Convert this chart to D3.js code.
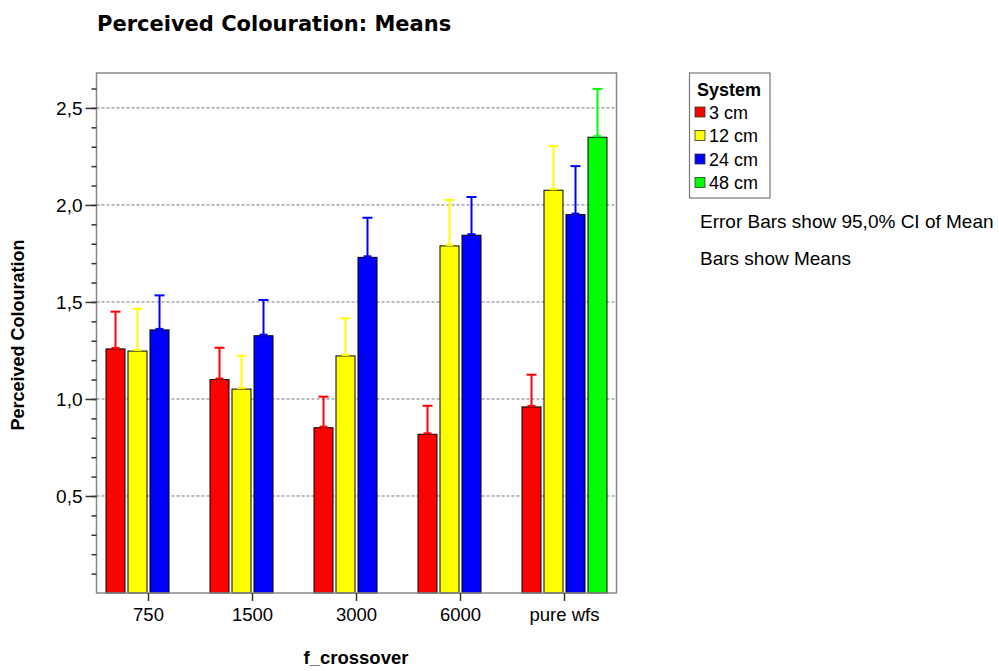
<!DOCTYPE html>
<html>
<head>
<meta charset="utf-8">
<script src="https://cdn.jsdelivr.net/npm/d3@7"></script>
<style>
  body { margin: 0; background: #fff; }
  text { font-family: "Liberation Sans", Arial, sans-serif; fill: #000; }
</style>
</head>
<body>
<div class="chart"></div>
<script>
const categories = ["750", "1500", "3000", "6000", "pure wfs"]
const systems = ["3 cm", "12 cm", "24 cm", "48 cm"]
const colors = ["#ff0000", "#ffff00", "#0000ff", "#00ff00"]

// means and upper 95% CI, one array per system (null = no bar)
const means3 = [1.258, 1.10, 0.852, 0.818, 0.959]
const means12 = [1.247, 1.051, 1.222, 1.789, 2.076]
const means24 = [1.356, 1.326, 1.730, 1.844, 1.950]
const means48 = [null, null, null, null, 2.349]
const upper3 = [1.45, 1.264, 1.012, 0.965, 1.125]
const upper12 = [1.465, 1.223, 1.416, 2.026, 2.303]
const upper24 = [1.534, 1.51, 1.934, 2.041, 2.2]
const upper48 = [null, null, null, null, 2.598]

const yTicks = [0.5, 1.0, 1.5, 2.0, 2.5]

const width = 999
const height = 671
const plot = { left: 96.5, right: 616.5, top: 73, bottom: 593 }

const svg = d3.select(".chart").append("svg")
    .attr("width", width)
    .attr("height", height)

const meansAll = [means3, means12, means24, means48]
const upperAll = [upper3, upper12, upper24, upper48]
const rows = []
categories.forEach((c, i) => {
    systems.forEach((s, j) => {
        if (meansAll[j][i] !== null) {
            rows.push({ cat: c, sys: s, idx: j, mean: meansAll[j][i], upper: upperAll[j][i] })
        }
    })
})

const xScale = d3.scaleBand()
    .domain(categories)
    .range([plot.left, plot.right])
    .paddingInner(16 / 104)
    .paddingOuter(8 / 104)

const xInner = d3.scaleBand()
    .domain(systems)
    .range([0, xScale.bandwidth()])
    .paddingInner(3 / 22)
    .paddingOuter(1.5 / 22)

const yScale = d3.scaleLinear()
    .domain([0, 2.68])
    .range([plot.bottom, plot.top])

// gridlines
svg.append("g")
    .selectAll("line")
    .data(yTicks)
    .enter()
    .append("line")
    .attr("x1", plot.left)
    .attr("x2", plot.right)
    .attr("y1", d => yScale(d))
    .attr("y2", d => yScale(d))
    .attr("stroke", "#777")
    .attr("stroke-width", 1)
    .attr("stroke-dasharray", "3,2")

// bars
svg.append("g")
    .selectAll("rect")
    .data(rows)
    .enter()
    .append("rect")
    .attr("x", d => xScale(d.cat) + xInner(d.sys))
    .attr("y", d => yScale(d.mean))
    .attr("width", xInner.bandwidth())
    .attr("height", d => yScale(0) - yScale(d.mean))
    .attr("fill", d => colors[d.idx])
    .attr("stroke", "#000")
    .attr("stroke-width", 1)

// error bars (upper half, the lower half sits behind the bar)
const err = svg.append("g")
rows.forEach(d => {
    const cx = xScale(d.cat) + xInner(d.sys) + xInner.bandwidth() / 2
    const col = colors[d.idx]
    err.append("line")
        .attr("x1", cx).attr("x2", cx)
        .attr("y1", yScale(d.mean)).attr("y2", yScale(d.upper))
        .attr("stroke", col).attr("stroke-width", 2)
    err.append("line")
        .attr("x1", cx - 5).attr("x2", cx + 5)
        .attr("y1", yScale(d.upper)).attr("y2", yScale(d.upper))
        .attr("stroke", col).attr("stroke-width", 2)
    err.append("line")
        .attr("x1", cx - 4).attr("x2", cx + 4)
        .attr("y1", yScale(d.mean) - 1).attr("y2", yScale(d.mean) - 1)
        .attr("stroke", col).attr("stroke-width", 2)
})

// frame
svg.append("rect")
    .attr("x", plot.left)
    .attr("y", plot.top)
    .attr("width", plot.right - plot.left)
    .attr("height", plot.bottom - plot.top)
    .attr("fill", "none")
    .attr("stroke", "#888")
    .attr("stroke-width", 1.5)

// y axis
const yAxis = svg.append("g")
    .attr("transform", "translate(" + plot.left + ",0)")
    .call(d3.axisLeft(yScale).tickValues(d3.range(1, 27).map(d => d / 10)).tickSize(5).tickFormat(""))
yAxis.select(".domain").remove()
yAxis.selectAll(".tick line").attr("stroke", "#333").attr("stroke-width", 1.5)

const yMajor = svg.append("g")
    .attr("transform", "translate(" + plot.left + ",0)")
    .call(d3.axisLeft(yScale).tickValues(yTicks).tickSize(11).tickPadding(3)
        .tickFormat(d => d3.format(".1f")(d).replace(".", ",")))
yMajor.select(".domain").remove()
yMajor.selectAll(".tick line").attr("stroke", "#333").attr("stroke-width", 1.5)
yMajor.selectAll(".tick text")
    .style("font-family", "'Liberation Sans', Arial, sans-serif")
    .style("font-size", "19px")
    .attr("fill", "#000")

// x axis
const xAxis = svg.append("g")
    .attr("transform", "translate(0," + plot.bottom + ")")
    .call(d3.axisBottom(xScale).tickSize(8).tickPadding(7))
xAxis.select(".domain").remove()
xAxis.selectAll(".tick line").attr("stroke", "#333").attr("stroke-width", 1.5)
xAxis.selectAll(".tick text")
    .style("font-family", "'Liberation Sans', Arial, sans-serif")
    .style("font-size", "18.5px")
    .attr("fill", "#000")

// titles
svg.append("text")
    .attr("x", 97)
    .attr("y", 31)
    .style("font-family", "'DejaVu Sans', Verdana, sans-serif")
    .style("font-weight", "bold")
    .style("font-size", "21px")
    .text("Perceived Colouration: Means")

svg.append("text")
    .attr("transform", "translate(24,335) rotate(-90)")
    .attr("text-anchor", "middle")
    .style("font-weight", "bold")
    .style("font-size", "18px")
    .text("Perceived Colouration")

svg.append("text")
    .attr("x", 356)
    .attr("y", 664)
    .attr("text-anchor", "middle")
    .style("font-weight", "bold")
    .style("font-size", "18.5px")
    .text("f_crossover")

// legend
const legend = svg.append("g")
legend.append("rect")
    .attr("x", 689.5).attr("y", 73)
    .attr("width", 80.5).attr("height", 125)
    .attr("fill", "#fff")
    .attr("stroke", "#777")
    .attr("stroke-width", 1.2)
legend.append("text")
    .attr("x", 697).attr("y", 96)
    .style("font-weight", "bold")
    .style("font-size", "18px")
    .text("System")
const items = legend.selectAll(".item")
    .data(systems)
    .enter()
    .append("g")
    .attr("class", "item")
    .attr("transform", (d, i) => "translate(0," + (112 + i * 23.5) + ")")
items.append("rect")
    .attr("x", 695).attr("y", -5)
    .attr("width", 10).attr("height", 10)
    .attr("fill", (d, i) => colors[i])
    .attr("stroke", "#333")
    .attr("stroke-width", 0.8)
items.append("text")
    .attr("x", 709).attr("y", 6.5)
    .style("font-size", "18px")
    .text(d => d)

svg.append("text")
    .attr("x", 700).attr("y", 228)
    .style("font-size", "19px")
    .text("Error Bars show 95,0% CI of Mean")
svg.append("text")
    .attr("x", 700).attr("y", 265)
    .style("font-size", "19px")
    .text("Bars show Means")
</script>
</body>
</html>
